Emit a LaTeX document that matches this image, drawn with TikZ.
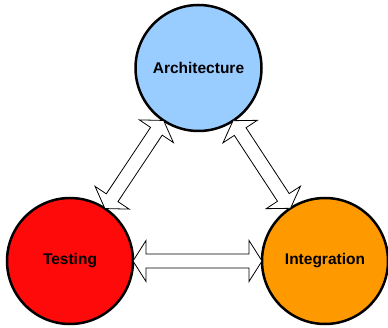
\documentclass[tikz,border=0pt]{standalone}
\usepackage{fontspec}
\setsansfont{Liberation Sans}
\usepackage{tikz}
\usetikzlibrary{calc}
\definecolor{archblue}{HTML}{99CCFF}
\definecolor{testred}{HTML}{FF0A0A}
\definecolor{integorange}{HTML}{FF9900}
\tikzstyle{phase}=[circle,draw=black,line width=2.5pt,minimum size=126pt,inner sep=0pt,outer sep=0pt,font=\sffamily\bfseries\fontsize{15.5}{18}\selectfont]
\tikzstyle{block}=[draw=black,line width=0.8pt,fill=white,line join=miter]

\begin{document}
\begin{tikzpicture}
		\useasboundingbox (0,0) rectangle (388pt,327pt);
		\node[phase,fill=archblue] 		(arch) 	at (198.5pt,259pt) 	{Architecture};
		\node[phase,fill=testred] 		(test) 	at (70pt,66pt) 		{Testing};
		\node[phase,fill=integorange] 	(integ) 	at (325pt,66pt) 	{Integration};
		\foreach \s/\e in {test/arch,arch/integ,test/integ} {
			\path (\s) -- (\e) coordinate[pos=0] (p) coordinate[pos=1] (q);
			\coordinate (b1) at ($(p)!13pt!(q)$);
			\coordinate (b2) at ($(q)!13pt!(p)$);
			\draw[block] (p)--($(b1)!20.5pt!90:(q)$)--($(b1)!7pt!90:(q)$)--($(b2)!7pt!-90:(p)$)
				--($(b2)!20.5pt!-90:(p)$)--(q)--($(b2)!20.5pt!90:(p)$)--($(b2)!7pt!90:(p)$)
				--($(b1)!7pt!-90:(q)$)--($(b1)!20.5pt!-90:(q)$)--cycle;}
	\end{tikzpicture}
\end{document}
